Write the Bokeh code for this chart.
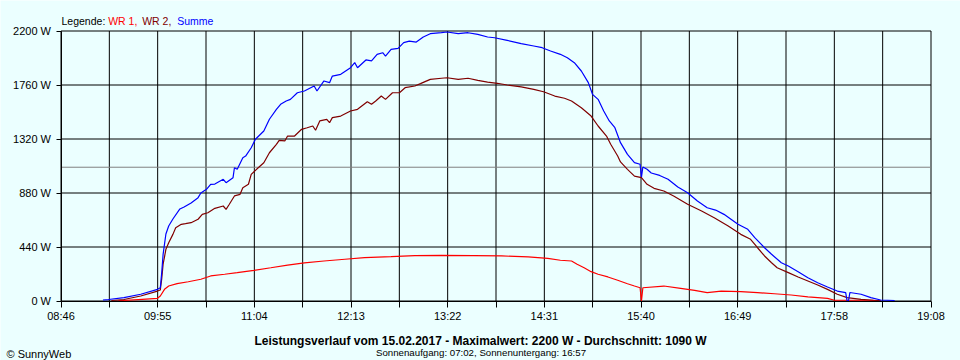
from bokeh.plotting import figure
from bokeh.models import FixedTicker, Label, Range1d, CustomJSTickFormatter
from bokeh.embed import file_html
from bokeh.resources import INLINE
import numpy as np

# ---------------- data ----------------
x_tick_labels = ["08:46", "09:55", "11:04", "12:13", "13:22", "14:31",
                 "15:40", "16:49", "17:58", "19:08"]
y_ticks = [0, 440, 880, 1320, 1760, 2200]
average_w = 1090

wr1_time = ["09:27", "09:44", "09:55", "09:57", "10:00", "10:03", "10:09", "10:17", "10:26",
            "10:33", "10:43", "10:52", "11:04", "11:16", "11:28", "11:40", "11:54", "12:09",
            "12:23", "12:42", "12:59", "13:18", "13:41", "14:01", "14:20", "14:34", "14:43",
            "14:51", "14:55", "15:00", "15:05", "15:10", "15:17", "15:24", "15:31", "15:36",
            "15:40", "15:41", "15:42", "15:57", "16:09", "16:19", "16:28", "16:38", "16:52",
            "17:04", "17:16", "17:28", "17:40", "17:54", "17:59", "18:23", "18:32"]
wr1_w = [2, 14, 22, 41, 95, 122, 141, 157, 177,
         204, 218, 231, 250, 271, 293, 310, 326, 340,
         353, 361, 369, 372, 369, 367, 359, 348, 332,
         326, 299, 271, 239, 218, 196, 169, 141, 122,
         108, 0, 108, 122, 103, 87, 68, 81, 76,
         68, 59, 49, 33, 22, 6, 6, 3]

wr2_time = ["09:22", "09:31", "09:43", "09:55", "09:57", "09:58", "09:59", "10:00", "10:01",
            "10:03", "10:06", "10:08", "10:12", "10:15", "10:19", "10:24", "10:27", "10:31",
            "10:36", "10:42", "10:44", "10:46", "10:50", "10:54", "10:56", "11:00", "11:02",
            "11:07", "11:11", "11:15", "11:20", "11:22", "11:26", "11:28", "11:33", "11:38",
            "11:42", "11:46", "11:48", "11:51", "11:56", "11:58", "12:00", "12:06", "12:13",
            "12:18", "12:25", "12:28", "12:31", "12:35", "12:38", "12:43", "12:48", "12:52",
            "12:59", "13:03", "13:10", "13:18", "13:22", "13:30", "13:37", "13:44", "13:51",
            "13:58", "14:05", "14:15", "14:24", "14:31", "14:39", "14:46", "14:51", "14:58",
            "15:05", "15:10", "15:16", "15:19", "15:24", "15:26", "15:31", "15:36", "15:41",
            "15:45", "15:50", "15:57", "16:04", "16:14", "16:24", "16:33", "16:43", "16:52",
            "16:59", "17:04", "17:09", "17:14", "17:18", "17:26", "17:33", "17:40", "17:47",
            "17:54", "18:01", "18:08", "18:18", "18:27", "18:32"]
wr2_w = [4, 12, 41, 81, 90, 180, 300, 360, 421,
         475, 543, 597, 625, 630, 638, 666, 706, 719,
         755, 774, 747, 782, 856, 869, 923, 951, 1032,
         1086, 1127, 1208, 1277, 1309, 1304, 1344, 1344, 1399,
         1412, 1426, 1391, 1467, 1480, 1453, 1494, 1507, 1548,
         1562, 1624, 1603, 1630, 1670, 1643, 1697, 1697, 1738,
         1752, 1771, 1806, 1815, 1819, 1806, 1815, 1798, 1784,
         1774, 1760, 1744, 1725, 1705, 1670, 1652, 1630, 1575,
         1507, 1426, 1344, 1277, 1181, 1133, 1073, 1018, 1005,
         951, 918, 896, 856, 788, 733, 679, 611, 543,
         503, 434, 367, 312, 271, 231, 196, 163, 130,
         95, 55, 27, 14, 6, 3]

sum_time = ["09:16", "09:20", "09:31", "09:43", "09:55", "09:57", "09:58", "09:59", "10:00",
            "10:01", "10:03", "10:06", "10:11", "10:14", "10:19", "10:24", "10:26", "10:30",
            "10:33", "10:36", "10:42", "10:44", "10:49", "10:50", "10:52", "10:56", "10:58",
            "11:02", "11:05", "11:11", "11:15", "11:20", "11:23", "11:27", "11:30", "11:35",
            "11:40", "11:47", "11:49", "11:54", "11:58", "12:00", "12:06", "12:13", "12:16",
            "12:18", "12:24", "12:28", "12:32", "12:36", "12:38", "12:42", "12:47", "12:51",
            "12:55", "13:00", "13:05", "13:10", "13:18", "13:22", "13:30", "13:37", "13:44",
            "13:51", "13:56", "14:05", "14:15", "14:24", "14:30", "14:36", "14:43", "14:48",
            "14:53", "14:58", "15:03", "15:06", "15:10", "15:14", "15:18", "15:22", "15:26",
            "15:31", "15:36", "15:40", "15:41", "15:42", "15:45", "15:48", "15:54", "16:00",
            "16:07", "16:14", "16:21", "16:28", "16:34", "16:40", "16:50", "16:57", "17:02",
            "17:09", "17:14", "17:21", "17:26", "17:33", "17:40", "17:47", "17:54", "18:01",
            "18:07", "18:08", "18:09", "18:10", "18:18", "18:25", "18:32", "18:42"]
sum_w = [8, 12, 27, 55, 95, 108, 230, 380, 464,
         546, 611, 668, 750, 766, 799, 842, 880, 910,
         951, 953, 992, 964, 1005, 1086, 1073, 1168, 1181,
         1249, 1318, 1385, 1481, 1562, 1603, 1630, 1643, 1697,
         1711, 1752, 1711, 1793, 1779, 1833, 1847, 1901, 1942,
         1901, 1964, 1956, 2010, 2023, 1996, 2051, 2059, 2105,
         2118, 2110, 2151, 2178, 2186, 2192, 2178, 2186, 2173,
         2151, 2145, 2124, 2097, 2078, 2064, 2037, 2010, 1982,
         1942, 1874, 1779, 1684, 1643, 1548, 1467, 1412, 1290,
         1195, 1127, 1114, 1010, 1092, 1073, 1043, 1023, 992,
         929, 882, 815, 760, 741, 706, 625, 584, 516,
         434, 381, 312, 285, 239, 190, 149, 114, 81,
         68, 0, 0, 69, 55, 27, 8, 4]

title_text = "Leistungsverlauf vom 15.02.2017 - Maximalwert: 2200 W - Durchschnitt: 1090 W"
sun_text = "Sonnenaufgang: 07:02, Sonnenuntergang: 16:57"
copyright_text = "\u00a9 SunnyWeb"


def to_min(s):
    h, m = s.split(":")
    return int(h) * 60 + int(m)


BG = "#ebffff"
FONT = "Liberation Sans"
W, H = 960, 360
# plot-area placement in pixels (left, right, top, bottom margins)
ML, MR, MT, MB = 60.5, 29.5, 30.5, 59.5

x0, x1 = to_min(x_tick_labels[0]), to_min(x_tick_labels[-1])
y0, y1 = y_ticks[0], y_ticks[-1]
ppx = (W - ML - MR) / (x1 - x0)
ppy = (H - MT - MB) / (y1 - y0)

major = [float(v) for v in np.linspace(x0, x1, len(x_tick_labels))]
minor = [(major[i] + major[i + 1]) / 2 for i in range(len(major) - 1)]
all_x = sorted(major + minor)

p = figure(width=W, height=H, output_backend="svg", toolbar_location=None,
           x_range=Range1d(x0 - ML / ppx, x1 + MR / ppx),
           y_range=Range1d(y0 - MB / ppy, y1 + MT / ppy),
           min_border=0, background_fill_color=BG, border_fill_color=BG)
p.outline_line_color = None
p.grid.visible = False

# x axis
p.xaxis.fixed_location = y0
p.xaxis.bounds = (x0, x1)
p.xaxis.ticker = FixedTicker(ticks=major, minor_ticks=minor)
p.xaxis.formatter = CustomJSTickFormatter(args=dict(labels=x_tick_labels),
                                          code="return labels[index];")
p.xaxis.major_tick_out = 6
p.xaxis.major_tick_in = 0
p.xaxis.minor_tick_out = 6
p.xaxis.minor_tick_in = 0
p.xaxis.minor_tick_line_color = "black"
p.xaxis.major_label_standoff = 3

# y axis
p.yaxis.fixed_location = x0
p.yaxis.bounds = (y0, y1)
p.yaxis.ticker = FixedTicker(ticks=y_ticks)
p.yaxis.formatter = CustomJSTickFormatter(code="return tick + ' W';")
p.yaxis.major_tick_out = 5
p.yaxis.major_tick_in = 0
p.yaxis.minor_tick_line_color = None
p.yaxis.major_label_standoff = 5

for ax in (p.xaxis, p.yaxis):
    ax.axis_line_color = "black"
    ax.major_tick_line_color = "black"
    ax.major_label_text_font = FONT
    ax.major_label_text_font_size = "11px"
    ax.major_label_text_color = "black"

# grid lines, bounded to the plot area
p.segment(x0=all_x, y0=[y0] * len(all_x), x1=all_x, y1=[y1] * len(all_x),
          line_color="black", line_width=1)
p.segment(x0=[x0] * len(y_ticks), y0=y_ticks, x1=[x1] * len(y_ticks), y1=y_ticks,
          line_color="black", line_width=1)

# average line
p.segment(x0=[x0], y0=[average_w], x1=[x1], y1=[average_w], line_color="#808080", line_width=1)

p.line([to_min(t) for t in wr1_time], wr1_w, line_color="#ff0000", line_width=1.2)
p.line([to_min(t) for t in wr2_time], wr2_w, line_color="#800000", line_width=1.2)
p.line([to_min(t) for t in sum_time], sum_w, line_color="#0000ff", line_width=1.2)


def lab(text, x, y, color="black", size="11px", style="normal", align="left"):
    # x, y: pixels from the left / top of the picture
    p.add_layout(Label(x=x, y=H - y, x_units="screen", y_units="screen", text=text,
                       text_color=color, text_font=FONT, text_font_size=size,
                       text_font_style=style, text_align=align,
                       text_baseline="alphabetic"))


lab("Legende:", 61, 20.5, size="10.5px")
lab("WR 1,", 107.7, 20.5, "#ff0000", size="10.5px")
lab("WR 2,", 141.7, 20.5, "#800000", size="10.5px")
lab("Summe", 176.7, 20.5, "#0000ff", size="10.5px")

lab(title_text, 480, 340, size="12px", style="bold", align="center")
lab(sun_text, 480.5, 352, size="9.7px", align="center")
lab(copyright_text, 6, 353, size="11px")

open("out.html", "w").write(file_html(p, INLINE))
